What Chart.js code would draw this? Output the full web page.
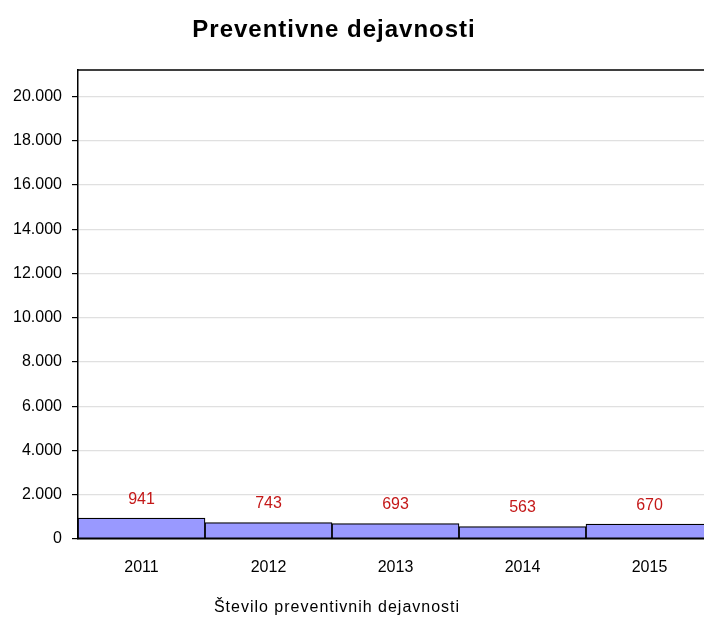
<!DOCTYPE html>
<html>
<head>
<meta charset="utf-8">
<script src="https://cdn.jsdelivr.net/npm/chart.js@4/dist/chart.umd.min.js"></script>
<style>
  html, body { margin: 0; padding: 0; background: #fff; overflow: hidden; }
  #wrap { width: 720px; height: 618px; }
</style>
</head>
<body>
<div id="wrap"><canvas id="chart" width="720" height="618"></canvas></div>
<script>
const years = ['2011', '2012', '2013', '2014', '2015'];
const counts = [941, 743, 693, 563, 670];
const yTickValues = [0, 2000, 4000, 6000, 8000, 10000, 12000, 14000, 16000, 18000, 20000];
const titleText = 'Preventivne dejavnosti';
const seriesName = 'Število preventivnih dejavnosti';

function fmt(v) {
    return String(v).replace(/\B(?=(\d{3})+(?!\d))/g, '.');
}

// naslov, legenda, okvir in vrednosti nad stolpci
const extras = {
    id: 'extras',
    afterDatasetsDraw(chart) {
        const ctx = chart.ctx;
        const area = chart.chartArea;
        ctx.save();
        // zgornja črta okvirja
        ctx.strokeStyle = '#000';
        ctx.lineWidth = 1.5;
        ctx.beginPath();
        ctx.moveTo(area.left, area.top);
        ctx.lineTo(area.right, area.top);
        ctx.lineTo(area.right, area.bottom);
        ctx.stroke();

        // vrednosti
        ctx.fillStyle = '#c41818';
        ctx.font = '16px "Liberation Sans"';
        ctx.textAlign = 'center';
        ctx.textBaseline = 'middle';
        chart.getDatasetMeta(0).data.forEach((bar, i) => {
            ctx.fillText(String(counts[i]), bar.x, bar.y - 19);
        });

        // naslov
        ctx.fillStyle = '#000';
        ctx.textBaseline = 'alphabetic';
        ctx.letterSpacing = '1px';
        ctx.font = 'bold 24px "Liberation Sans"';
        ctx.fillText(titleText, 334, 37);

        // legenda
        ctx.font = '16px "Liberation Sans"';
        ctx.fillText(seriesName, 337, 612);
        ctx.restore();
    }
};

new Chart(document.getElementById('chart'), {
    type: 'bar',
    data: {
        labels: years,
        datasets: [{
            label: seriesName,
            data: counts,
            backgroundColor: '#9999ff',
            borderColor: '#000',
            borderWidth: 1.2,
            borderSkipped: false,
            categoryPercentage: 1,
            barPercentage: 1
        }]
    },
    options: {
        responsive: false,
        animation: false,
        layout: { padding: { top: 70, right: 7, left: 0, bottom: 0 } },
        plugins: {
            legend: { display: false },
            title: { display: false },
            tooltip: { enabled: false }
        },
        scales: {
            x: {
                grid: { display: false, drawTicks: false },
                border: { display: true, color: '#000', width: 1.5 },
                ticks: {
                    color: '#000',
                    font: { family: 'Liberation Sans', size: 16 },
                    padding: 19,
                    maxRotation: 0
                },
                afterFit(scale) { scale.height = 79; }
            },
            y: {
                min: 0,
                max: 21200,
                afterBuildTicks(scale) {
                    scale.ticks = yTickValues.map(v => ({ value: v }));
                },
                afterFit(scale) { scale.width = 78; },
                grid: {
                    color: '#e0e0e0',
                    tickColor: '#000',
                    tickLength: 6,
                    lineWidth: 1.2
                },
                border: { display: true, color: '#000', width: 1.5 },
                ticks: {
                    color: '#000',
                    font: { family: 'Liberation Sans', size: 16 },
                    padding: 10,
                    callback: v => fmt(v)
                }
            }
        }
    },
    plugins: [extras]
});
</script>
</body>
</html>
